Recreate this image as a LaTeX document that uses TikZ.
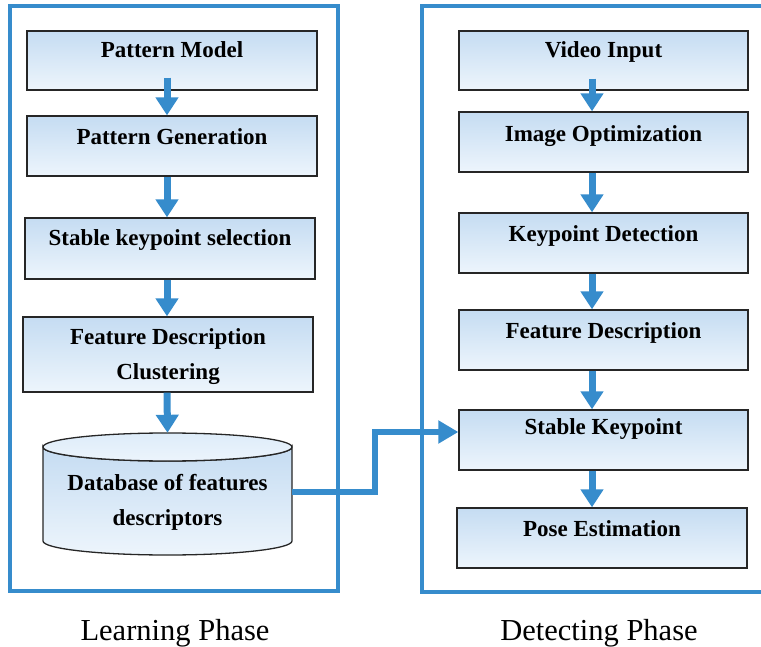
\documentclass[tikz,border=0pt]{standalone}
\usepackage{fontspec}
\setmainfont{Liberation Serif}
\usetikzlibrary{arrows.meta,calc}
\definecolor{frameblue}{RGB}{54,140,204}
\definecolor{boxtop}{RGB}{197,220,242}
\definecolor{boxbot}{RGB}{237,245,252}
\definecolor{lidtop}{RGB}{222,236,249}
\definecolor{lidbot}{RGB}{236,244,252}
\begin{document}
\begin{tikzpicture}[x=1pt,y=-1pt,
  box/.style={rectangle, draw=black!85, line width=1.3pt, top color=boxtop, bottom color=boxbot,
              minimum width=290pt, inner sep=0pt},
  btxt/.style={font=\fontsize{23}{35}\selectfont\bfseries, anchor=base, inner sep=0pt, align=center},
  frame/.style={draw=frameblue, line width=4.5pt},
  arr/.style={draw=frameblue, line width=7pt, -{Triangle[width=22pt,length=18pt]}},
  conn/.style={draw=frameblue, line width=5.5pt, -{Triangle[width=22pt,length=20pt]}},
  phase/.style={font=\fontsize{30.5}{36}\selectfont, anchor=base, inner sep=0pt}]
\useasboundingbox (0,0) rectangle (761,647);

% phase frames
\draw[frame] (10,6) rectangle (338,591);
\draw[frame] (761,6) -- (422,6) -- (422,592) -- (761,592);

% learning phase
\node[box, minimum height=59pt] (pm) at (172,60.5) {};
\node[btxt] (pmt) at ($(pm.north)+(0,27)$) {Pattern Model};
\node[box, minimum height=60pt] (pg) at (172,146) {};
\node[btxt] (pgt) at ($(pg.north)+(0,29)$) {Pattern Generation};
\node[box, minimum height=61pt] (sks) at (170,248.5) {};
\node[btxt] (skst) at ($(sks.north)+(0,28)$) {Stable keypoint selection};
\node[box, minimum height=75pt] (fdc) at (168,354.5) {};
\node[btxt] (fdct1) at ($(fdc.north)+(0,28)$) {Feature Description};
\node[btxt] (fdct2) at ($(fdc.north)+(0,63)$) {Clustering};

% database cylinder
\node[minimum width=249pt, minimum height=122pt, inner sep=0pt] (db) at (167.5,492) {};
\path[draw=black!85, line width=1.3pt, top color=boxtop, bottom color=boxbot]
  (43,447) -- (43,541) arc[start angle=180, end angle=0, x radius=124.5, y radius=14]
  -- (292,447) arc[start angle=0, end angle=180, x radius=124.5, y radius=14] -- cycle;
\path[draw=black!85, line width=1.3pt, top color=lidtop, bottom color=lidbot]
  (167.5,447) ellipse[x radius=124.5, y radius=14];
\node[btxt] (dbt1) at ($(db.north)+(0,60)$) {Database of features};
\node[btxt] (dbt2) at ($(db.north)+(0,95)$) {descriptors};

% detecting phase
\node[box, minimum width=289pt, minimum height=59pt] (vi) at (603.5,60.5) {};
\node[btxt] (vit) at ($(vi.north)+(0,27)$) {Video Input};
\node[box, minimum width=289pt, minimum height=60pt] (io) at (603.5,142) {};
\node[btxt] (iot) at ($(io.north)+(0,30)$) {Image Optimization};
\node[box, minimum width=289pt, minimum height=60pt] (kd) at (603.5,243) {};
\node[btxt] (kdt) at ($(kd.north)+(0,29)$) {Keypoint Detection};
\node[box, minimum width=289pt, minimum height=60pt] (fd) at (603.5,340) {};
\node[btxt] (fdt) at ($(fd.north)+(0,29)$) {Feature Description};
\node[box, minimum width=289pt, minimum height=60pt] (sk) at (603.5,440) {};
\node[btxt] (skt) at ($(sk.north)+(0,25)$) {Stable Keypoint};
\node[box, minimum width=290pt, minimum height=60pt] (pe) at (602,538) {};
\node[btxt] (pet) at ($(pe.north)+(0,29)$) {Pose Estimation};

% learning arrows
\draw[arr] ([xshift=-5pt,yshift=13pt]pm.south) -- ([xshift=-5pt]pg.north);
\draw[arr] ([xshift=-5pt]pg.south) -- ([xshift=-3pt]sks.north);
\draw[arr] ([xshift=-3pt]sks.south) -- ([xshift=-1pt]fdc.north);
\draw[arr] ([xshift=-1pt]fdc.south) -- ([yshift=-2pt]db.north);

% detecting arrows
\draw[arr] ([xshift=-11.5pt,yshift=12pt]vi.south) -- ([xshift=-11.5pt]io.north);
\draw[arr] ([xshift=-11.5pt]io.south) -- ([xshift=-11.5pt]kd.north);
\draw[arr] ([xshift=-11.5pt]kd.south) -- ([xshift=-11.5pt]fd.north);
\draw[arr] ([xshift=-11.5pt]fd.south) -- ([xshift=-11.5pt]sk.north);
\draw[arr] ([xshift=-11.5pt]sk.south) -- ([xshift=-10pt]pe.north);

% database to stable keypoint
\draw[conn] (db.east) -- ++(83,0) |- ([yshift=8pt]sk.west);

% phase labels
\node[phase] (lp) at (175,640) {Learning Phase};
\node[phase] (dp) at (599,640) {Detecting Phase};
\end{tikzpicture}
\end{document}
